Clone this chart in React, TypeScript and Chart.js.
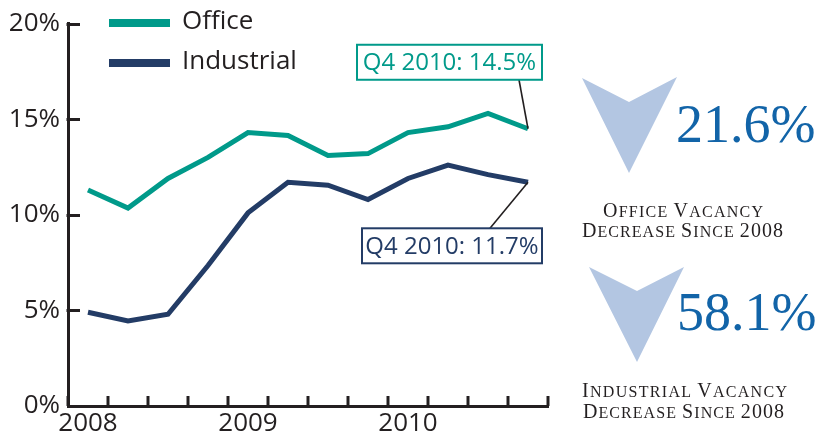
import React, { useEffect, useRef } from 'react';
import { Chart, registerables } from 'chart.js';

Chart.register(...registerables);

// ---- data ----
const quarterLabels = ['2008', '', '', '', '2009', '', '', '', '2010', '', '', ''];
const officeVacancy = [11.3, 10.35, 11.9, 13.0, 14.3, 14.15, 13.1, 13.2, 14.3, 14.6, 15.3, 14.5];
const industrialVacancy = [4.9, 4.45, 4.8, 7.35, 10.1, 11.7, 11.55, 10.8, 11.9, 12.6, 12.1, 11.7];
const seriesNames = ['Office', 'Industrial'];
const yTickValues = [0, 5, 10, 15, 20];
const calloutLabels = ['Q4 2010: 14.5%', 'Q4 2010: 11.7%'];
const decreaseValues = ['21.6%', '58.1%'];
const officeCaption = ['Office Vacancy', 'Decrease Since 2008'];
const industrialCaption = ['Industrial Vacancy', 'Decrease Since 2008'];

// ---- styles ----
const W = 816;
const H = 435;
const INK = '#231f20';
const TEAL = '#009a8a';
const NAVY = '#233c66';
const ARROW = '#b3c6e2';
const BIG_BLUE = '#1264a8';
const SANS = '"Open Sans", "Noto Sans", sans-serif';
const SERIF = '"Liberation Serif", "DejaVu Serif", serif';
const seriesColors = [TEAL, NAVY];

// callout box offsets relative to the last point of each series
const calloutGeom = [
  { dxL: -171, dxR: 14, dyT: -84, dyB: -49, leadDx: -9 },
  { dxL: -166, dxR: 14, dyT: 46, dyB: 81, leadDx: -38 },
];

const overlayPlugin = {
  id: 'overlay',
  beforeDatasetsDraw(chart: any) {
    const ctx = chart.ctx;
    const x = chart.scales.x;
    const y = chart.scales.y;
    const area = chart.chartArea;
    ctx.save();
    ctx.strokeStyle = INK;
    ctx.lineWidth = 3;
    ctx.lineCap = 'butt';
    // inward y ticks
    yTickValues.forEach((v) => {
      if (v === 0) return;
      const py = Math.round(y.getPixelForValue(v)) + 0.5;
      ctx.beginPath();
      ctx.moveTo(area.left - 1.5, py);
      ctx.lineTo(area.left + 12, py);
      ctx.stroke();
    });
    // inward x ticks at quarter boundaries
    for (let i = 0; i <= quarterLabels.length; i++) {
      const px = x.getPixelForValue(i - 0.5);
      ctx.beginPath();
      ctx.moveTo(px, area.bottom);
      ctx.lineTo(px, area.bottom - 10);
      ctx.stroke();
    }
    ctx.restore();
  },
  afterDraw(chart: any) {
    const ctx = chart.ctx;
    const x = chart.scales.x;
    const y = chart.scales.y;
    ctx.save();
    // legend
    const legendRows = [23, 63];
    chart.data.datasets.forEach((ds: any, i: number) => {
      const ly = legendRows[i];
      ctx.strokeStyle = ds.borderColor;
      ctx.lineWidth = 8;
      ctx.beginPath();
      ctx.moveTo(109, ly);
      ctx.lineTo(170, ly);
      ctx.stroke();
      ctx.fillStyle = INK;
      ctx.font = `26px ${SANS}`;
      ctx.textAlign = 'left';
      ctx.textBaseline = 'middle';
      ctx.fillText(ds.label, 182, ly - 1);
    });
    // callouts
    chart.data.datasets.forEach((ds: any, i: number) => {
      const last = ds.data.length - 1;
      const px = x.getPixelForValue(last);
      const py = y.getPixelForValue(ds.data[last]);
      const g = calloutGeom[i];
      const l = px + g.dxL, r = px + g.dxR, t = py + g.dyT, b = py + g.dyB;
      // leader line
      ctx.strokeStyle = INK;
      ctx.lineWidth = 1.6;
      ctx.beginPath();
      if (g.dyB < 0) {
        ctx.moveTo(px + g.leadDx, b);
      } else {
        ctx.moveTo(px + g.leadDx, t);
      }
      ctx.lineTo(px, py);
      ctx.stroke();
      // box
      ctx.fillStyle = '#ffffff';
      ctx.fillRect(l, t, r - l, b - t);
      ctx.strokeStyle = ds.borderColor;
      ctx.lineWidth = 2;
      ctx.strokeRect(l, t, r - l, b - t);
      ctx.fillStyle = ds.borderColor;
      ctx.font = `24px ${SANS}`;
      ctx.textAlign = 'center';
      ctx.textBaseline = 'middle';
      ctx.fillText(calloutLabels[i], (l + r) / 2, (t + b) / 2 + 1);
    });
    ctx.restore();
  },
};

function SmallCaps(props: { text: string; x: number; y: number; size: number; width: number }) {
  const words = props.text.split(' ');
  return (
    <text
      x={props.x}
      y={props.y}
      fill={INK}
      fontFamily={SERIF}
      textLength={props.width}
      lengthAdjust="spacing"
    >
      {words.map((w, i) => {
        const sep = i < words.length - 1 ? ' ' : '';
        if (/^[0-9]/.test(w)) {
          return (
            <tspan key={i} fontSize={props.size}>
              {w + sep}
            </tspan>
          );
        }
        return (
          <React.Fragment key={i}>
            <tspan fontSize={props.size}>{w.charAt(0)}</tspan>
            <tspan fontSize={props.size * 0.8} style={{ textTransform: 'uppercase' } as any}>
              {w.slice(1) + sep}
            </tspan>
          </React.Fragment>
        );
      })}
    </text>
  );
}

function SidePanel() {
  return (
    <svg
      width={W}
      height={H}
      style={{ position: 'absolute', left: 0, top: 0, pointerEvents: 'none' }}
    >
      <polygon points="582,78 629,102 677,77 629,173" fill={ARROW} />
      <polygon points="589,267 637,291 684,267 637,362" fill={ARROW} />
      <text x={676} y={142} fill={BIG_BLUE} fontFamily={SERIF} fontSize={54}>
        {decreaseValues[0]}
      </text>
      <text x={677} y={330} fill={BIG_BLUE} fontFamily={SERIF} fontSize={54}>
        {decreaseValues[1]}
      </text>
      <SmallCaps text={officeCaption[0]} x={603} y={217} size={20} width={160} />
      <SmallCaps text={officeCaption[1]} x={582} y={237} size={20} width={201} />
      <SmallCaps text={industrialCaption[0]} x={582} y={397} size={20} width={205} />
      <SmallCaps text={industrialCaption[1]} x={583} y={418} size={20} width={201} />
    </svg>
  );
}

export default function App() {
  const canvasRef = useRef<HTMLCanvasElement | null>(null);

  useEffect(() => {
    document.body.style.margin = '0';
    const canvas = canvasRef.current;
    if (!canvas) return;
    const chart = new Chart(canvas, {
      type: 'line',
      data: {
        labels: quarterLabels,
        datasets: [
          {
            label: seriesNames[0],
            data: officeVacancy,
            borderColor: seriesColors[0],
            backgroundColor: seriesColors[0],
            borderWidth: 5,
            pointRadius: 0,
            tension: 0,
          },
          {
            label: seriesNames[1],
            data: industrialVacancy,
            borderColor: seriesColors[1],
            backgroundColor: seriesColors[1],
            borderWidth: 5,
            pointRadius: 0,
            tension: 0,
          },
        ],
      },
      options: {
        responsive: false,
        devicePixelRatio: 1,
        animation: false,
        layout: { padding: { left: 0, top: 22, right: W - 548, bottom: 0 } },
        plugins: {
          legend: { display: false },
          tooltip: { enabled: false },
          title: { display: false },
        },
        scales: {
          x: {
            type: 'category',
            offset: true,
            grid: { display: true, drawOnChartArea: false, drawTicks: false, offset: true, color: 'rgba(0,0,0,0)' },
            border: { display: true, color: INK, width: 3 },
            ticks: {
              autoSkip: false,
              maxRotation: 0,
              minRotation: 0,
              color: INK,
              padding: 2,
              font: { family: SANS, size: 26 },
            },
            afterFit: (s: any) => {
              s.height = H - 406;
            },
          },
          y: {
            min: 0,
            max: 20,
            grid: { display: true, drawOnChartArea: false, drawTicks: false, color: 'rgba(0,0,0,0)' },
            border: { display: true, color: INK, width: 3 },
            ticks: {
              stepSize: 5,
              color: INK,
              padding: 8,
              font: { family: SANS, size: 26 },
              callback: (v: any) => `${v}%`,
            },
            afterFit: (s: any) => {
              s.width = 68;
            },
          },
        },
      },
      plugins: [overlayPlugin],
    } as any);
    return () => chart.destroy();
  }, []);

  return (
    <div style={{ position: 'relative', width: W, height: H, background: '#ffffff' }}>
      <canvas ref={canvasRef} width={W} height={H} style={{ display: 'block' }} />
      <SidePanel />
    </div>
  );
}
